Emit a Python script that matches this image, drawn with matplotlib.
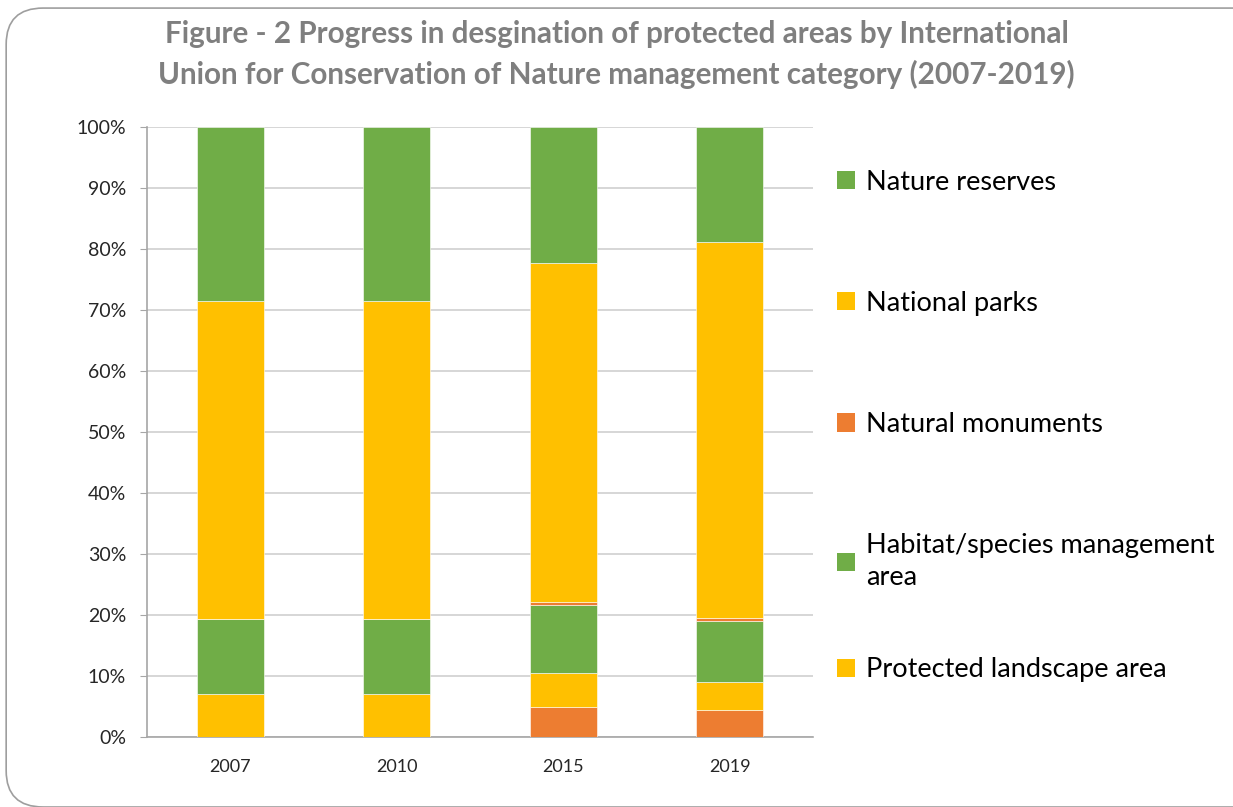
import matplotlib
matplotlib.use("Agg")
import matplotlib.pyplot as plt
import numpy as np
from matplotlib.patches import FancyBboxPatch, Patch

plt.rcParams['font.family'] = ['Lato', 'DejaVu Sans']

years = ["2007", "2010", "2015", "2019"]
# stacked segments, bottom to top (percent)
strict_reserve = [0.0, 0.0, 5.0, 4.5]
protected_landscape = [7.0, 7.0, 5.5, 4.5]
habitat_species = [12.3, 12.4, 11.1, 10.1]
natural_monuments = [0.0, 0.0, 0.5, 0.4]
national_parks = [52.2, 52.1, 55.6, 61.6]
nature_reserves = [28.5, 28.5, 22.3, 18.9]

green = "#70AD47"
yellow = "#FFC000"
orange = "#ED7D31"

series = [
    ("Strict nature reserve", strict_reserve, orange),
    ("Protected landscape area", protected_landscape, yellow),
    ("Habitat/species management\narea", habitat_species, green),
    ("Natural monuments", natural_monuments, orange),
    ("National parks", national_parks, yellow),
    ("Nature reserves", nature_reserves, green),
]

fig = plt.figure(figsize=(12.33, 8.07), dpi=100)
ax = fig.add_axes([0.1192, 0.0867, 0.5402, 0.7559])

# rounded frame around the whole chart
frame = FancyBboxPatch((0.005, 0.0), 1.2, 0.99, boxstyle="round,pad=0,rounding_size=0.03",
                       transform=fig.transFigure, facecolor="none", edgecolor="#9e9e9e",
                       linewidth=1.2, mutation_aspect=1.5)
fig.patches.append(frame)

x = np.arange(len(years))
bottom = np.zeros(len(years))
for name, vals, col in series:
    ax.bar(x, vals, 0.4, bottom=bottom, color=col, edgecolor="white", linewidth=0.4, zorder=3)
    bottom += np.array(vals)

ax.set_xlim(-0.5, 3.5)
ax.set_ylim(0, 100)
ax.set_yticks(np.arange(0, 101, 10))
ax.set_yticklabels([f"{v}%" for v in range(0, 101, 10)], fontsize=14, color="#262626")
ax.set_xticks(x)
ax.set_xticklabels(years, fontsize=13, color="#262626")
ax.tick_params(axis="x", length=0, pad=16)
ax.tick_params(axis="y", length=5, color="#a6a6a6", pad=10)
ax.grid(axis="y", color="#d0d0d0", linewidth=1.2, zorder=0)
for s in ["top", "right"]:
    ax.spines[s].set_visible(False)
for s in ["left", "bottom"]:
    ax.spines[s].set_color("#a6a6a6")
    ax.spines[s].set_linewidth(1.2)

# legend (the bottom orange series has no entry in the original)
handles = [Patch(facecolor=col, label=name) for name, vals, col in series[1:]][::-1]
leg_kw = dict(frameon=False, fontsize=19.5, handlelength=0.65, handleheight=0.65,
              handletextpad=0.4, labelspacing=3.55)
leg = ax.legend(handles=handles[:4], loc="upper left", bbox_to_anchor=(1.0, 0.97), **leg_kw)
for t in leg.get_texts():
    t.set_linespacing(1.35)
ax.add_artist(leg)
ax.legend(handles=handles[4:], loc="center left", bbox_to_anchor=(1.0, 0.11), **leg_kw)

fig.text(0.5, 0.975, "Figure - 2 Progress in desgination of protected areas by International\n"
         "Union for Conservation of Nature management category (2007-2019)",
         ha="center", va="top", fontsize=21.3, fontweight="bold", color="#7f7f7f",
         linespacing=1.5)

fig.savefig("out.png", dpi=100)
